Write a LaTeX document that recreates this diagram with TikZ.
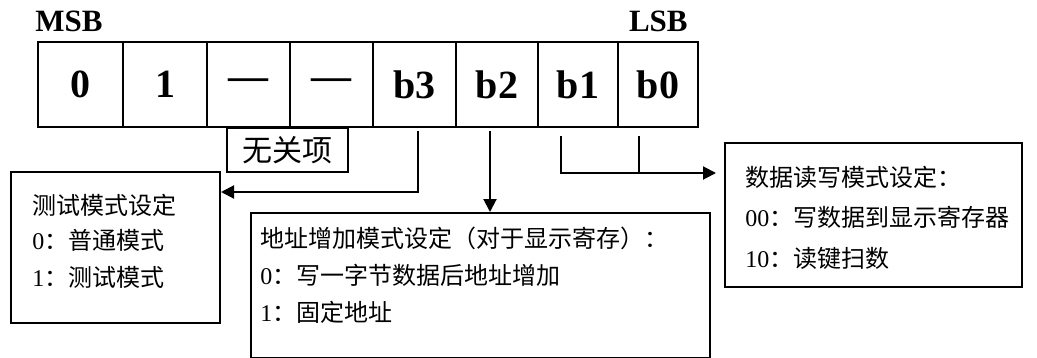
\documentclass[tikz,border=0pt]{standalone}
\usepackage{fontspec}
\setmainfont{Liberation Serif}
\newfontfamily\cjk{Noto Sans CJK SC}
\usetikzlibrary{positioning,calc,arrows.meta}

\tikzset{
  bitcell/.style={draw,line width=1.3pt,inner sep=0pt,minimum height=42.5pt,font=\bfseries\fontsize{20}{20}\selectfont},
  infobox/.style={draw,line width=1pt,inner sep=0pt,anchor=north west},
  infotext/.style={anchor=west,inner sep=0pt,font=\fontsize{12}{14}\selectfont},
  conn/.style={line width=1pt},
  arr/.style={conn,-{Triangle[length=6.5pt,width=6.5pt]}}
}

\begin{document}
\begin{tikzpicture}[x=0.5pt,y=-0.5pt]
  \useasboundingbox (0,0) rectangle (1037,358);
  \foreach \l/\r/\t/\n in {38/123/0/c7,123/207/1/c6,207/290/\textemdash/c5,290/373/\textemdash/c4,373/456/b3/c3,456/538/b2/c2,538/618/b1/c1,618/698/b0/c0}
    \node[bitcell,minimum width={(\r-\l)*0.5pt}] (\n) at ({(\l+\r)/2},84.5) {\t};
  \node[anchor=base west,inner sep=0pt,font=\bfseries\fontsize{15.5}{15.5}\selectfont] (msb) at (35,32) {MSB};
  \node[anchor=base east,inner sep=0pt,font=\bfseries\fontsize{15.5}{15.5}\selectfont] (lsb) at (688,32) {LSB};
  \node[draw,line width=1pt,anchor=north west,inner sep=0pt,minimum width=60.5pt,minimum height=22pt,font=\cjk\fontsize{15}{15}\selectfont] (dc) at (226,127) {无关项};

  \node[infobox,minimum width=104.5pt,minimum height=75.5pt] (test) at (10,171) {};
  \node[infobox,minimum width=229.5pt,minimum height=72.5pt] (addr) at (250,212) {};
  \node[infobox,minimum width=148.5pt,minimum height=72pt] (rw) at (724,142) {};
  \foreach \y/\s [count=\i] in {34/{\cjk 测试模式设定},69/{0\cjk ：普通模式},106/{1\cjk ：测试模式}}
    \node[infotext] (test\i) at ($(test.north west)+(22,\y)$) {\s};
  \foreach \y/\s [count=\i] in {26/{\cjk 地址增加模式设定（对于显示寄存）：},63/{0\cjk ：写一字节数据后地址增加},100/{1\cjk ：固定地址}}
    \node[infotext] (addr\i) at ($(addr.north west)+(10,\y)$) {\s};
  \foreach \y/\s [count=\i] in {35/{\cjk 数据读写模式设定：},75/{00\cjk ：写数据到显示寄存器},116/{10\cjk ：读键扫数}}
    \node[infotext] (rw\i) at ($(rw.north west)+(21,\y)$) {\s};

  \coordinate (b3out) at ([xshift=1.75pt,yshift=-1.5pt]c3.south);
  \coordinate (b2out) at ([xshift=-3.5pt,yshift=-1.5pt]c2.south);
  \coordinate (b1out) at ([xshift=-8.5pt,yshift=-4pt]c1.south);
  \coordinate (b0out) at ([xshift=-9.5pt,yshift=-4pt]c0.south);
  \coordinate (testin) at ($(test.north east)+(0,21)$);
  \coordinate (rwin) at ($(rw.north west)+(-8,31)$);
  \draw[arr] (b3out) |- (testin);
  \draw[arr] (b2out) -- (b2out |- addr.north);
  \draw[arr] (b1out) |- (rwin);
  \draw[conn] (b0out) -- (b0out |- rwin);
\end{tikzpicture}
\end{document}
